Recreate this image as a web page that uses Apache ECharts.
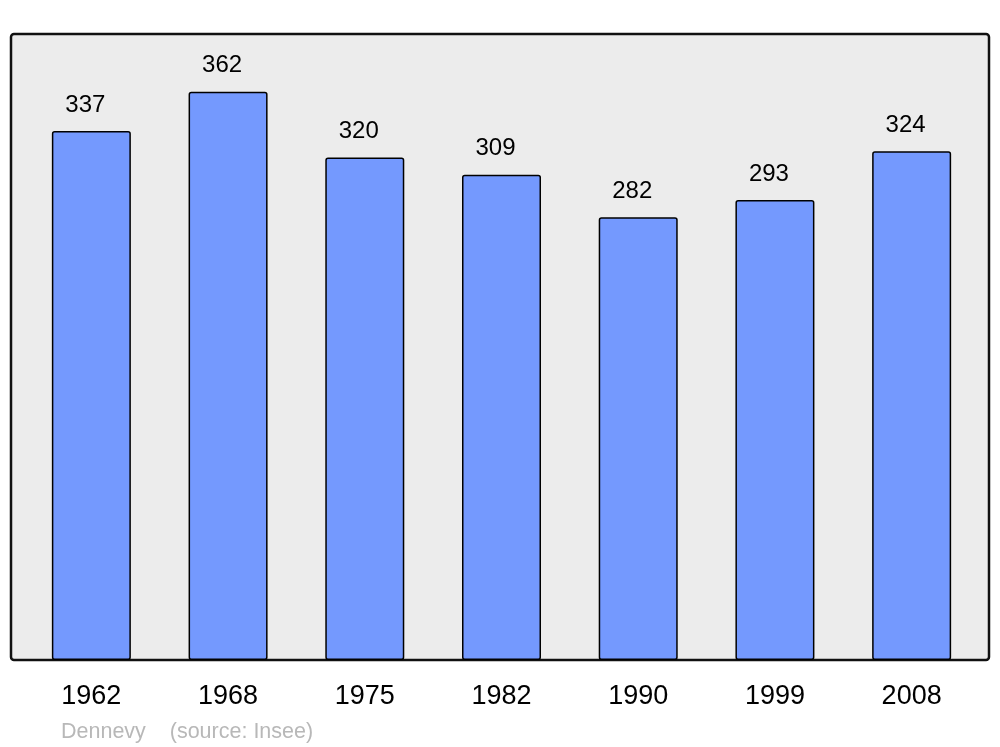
<!DOCTYPE html>
<html>
<head>
<meta charset="utf-8">
<script src="https://cdn.jsdelivr.net/npm/echarts@6/dist/echarts.min.js"></script>
<style>
  html, body { margin: 0; padding: 0; background: #fff; }
  #chart { width: 1000px; height: 747px; }
</style>
</head>
<body>
<div id="chart"></div>
<script>
// population par recensement
var years = ['1962', '1968', '1975', '1982', '1990', '1999', '2008'];
var population = [337, 362, 320, 309, 282, 293, 324];

var font = '"Liberation Sans", Arial, sans-serif';
var myChart = echarts.init(document.getElementById('chart'), null, { renderer: 'canvas' });

var option = {
  animation: false,
  title: {
    text: 'Dennevy    (source: Insee)',
    left: 56,
    top: 716,
    textStyle: { color: '#b8b8b8', fontSize: 21.5, fontWeight: 'normal', fontFamily: font }
  },
  graphic: [{
    type: 'rect',
    z: -10,
    shape: { x: 11, y: 34, width: 978, height: 626, r: 3 },
    style: { fill: '#ececec', stroke: '#111', lineWidth: 2.5 }
  }],
  grid: { left: 23, right: 20, top: 32, bottom: 87 },
  xAxis: {
    type: 'category',
    data: years,
    axisLine: { show: false },
    axisTick: { show: false },
    axisLabel: { margin: 23, fontSize: 27, color: '#000', fontFamily: font }
  },
  yAxis: {
    type: 'value',
    min: 0,
    max: 400,
    show: false
  },
  series: [{
    type: 'bar',
    data: population,
    barWidth: 79,
    itemStyle: { color: '#7499fe', borderColor: '#000', borderWidth: 1.5, borderRadius: 2 },
    label: {
      show: true,
      position: 'top',
      distance: 14,
      offset: [-6, 0],
      fontSize: 24,
      color: '#000',
      fontFamily: font
    }
  }]
};
myChart.setOption(option);
</script>
</body>
</html>
